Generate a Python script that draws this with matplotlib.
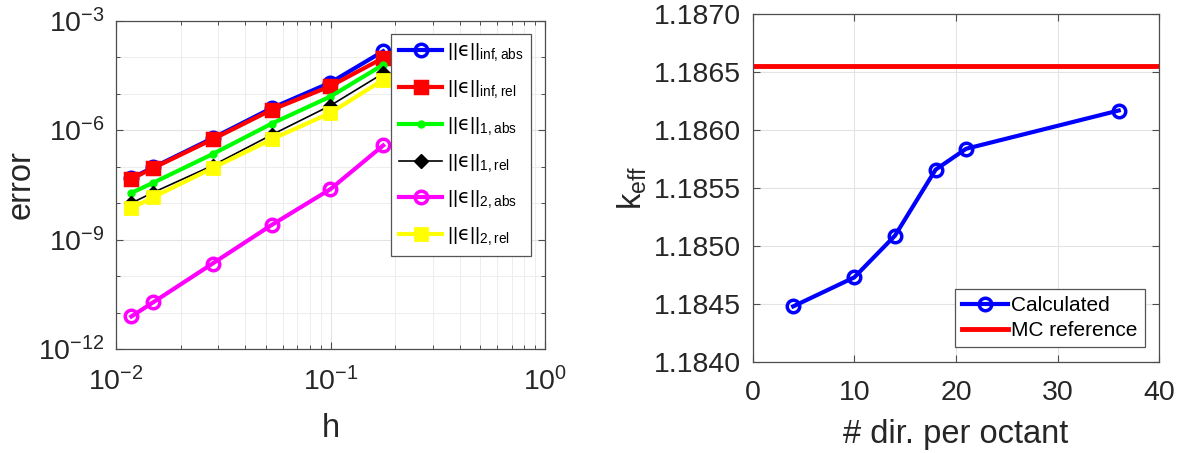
import matplotlib
matplotlib.use("Agg")
import matplotlib.pyplot as plt
from matplotlib.ticker import NullFormatter, FormatStrFormatter

plt.rcParams['font.family'] = ['Liberation Sans', 'DejaVu Sans']
plt.rcParams['mathtext.fontset'] = 'custom'
plt.rcParams['mathtext.rm'] = 'Liberation Sans'
plt.rcParams['mathtext.it'] = 'DejaVu Sans'
plt.rcParams['mathtext.bf'] = 'Liberation Sans:bold'

# left panel: error norms vs mesh size h
h = [0.0118, 0.0149, 0.0282, 0.0531, 0.0998, 0.176]
err_inf_abs = [4.8e-8, 9.5e-8, 6.0e-7, 4.0e-6, 2.0e-5, 1.45e-4]
err_inf_rel = [4.6e-8, 9.1e-8, 5.6e-7, 3.6e-6, 1.6e-5, 9.5e-5]
err_1_abs = [1.9e-8, 3.6e-8, 2.2e-7, 1.5e-6, 8.3e-6, 6.2e-5]
err_1_rel = [1.0e-8, 1.95e-8, 1.07e-7, 7.4e-7, 4.7e-6, 3.6e-5]
err_2_abs = [7.8e-12, 1.9e-11, 2.2e-10, 2.5e-9, 2.4e-8, 3.8e-7]
err_2_rel = [7.2e-9, 1.45e-8, 9.1e-8, 5.6e-7, 2.95e-6, 2.4e-5]

# right panel: k_eff vs number of directions per octant
ndir = [4, 10, 14, 18, 21, 36]
keff = [1.18448, 1.18473, 1.18509, 1.18566, 1.18584, 1.18617]
mc_ref = 1.18655

axcol = '#4d4d4d'
txtcol = '#262626'
gridcol = '#e3e3e3'

fig = plt.figure(figsize=(11.81, 4.53), dpi=100)
ax1 = fig.add_axes([0.0982, 0.2296, 0.3633, 0.7247])
ax2 = fig.add_axes([0.6372, 0.2009, 0.3445, 0.7675])

lw = 3.0
ax1.loglog(h, err_inf_abs, '-o', color='#0000ff', lw=lw, ms=9, mew=2.5, mfc='none',
           label='$||\u03f5||_{\\mathrm{inf,abs}}$')
ax1.loglog(h, err_inf_rel, '-s', color='#ff0000', lw=lw, ms=9, mew=2.5,
           label='$||\u03f5||_{\\mathrm{inf,rel}}$')
ax1.loglog(h, err_1_abs, '-o', color='#00ff00', lw=lw, ms=5,
           label='$||\u03f5||_{\\mathrm{1,abs}}$')
ax1.loglog(h, err_1_rel, '-D', color='black', lw=1.2, ms=7,
           label='$||\u03f5||_{\\mathrm{1,rel}}$')
ax1.loglog(h, err_2_abs, '-o', color='#ff00ff', lw=lw, ms=9, mew=2.5, mfc='none',
           label='$||\u03f5||_{\\mathrm{2,abs}}$')
ax1.loglog(h, err_2_rel, '-s', color='#ffff00', lw=lw, ms=8, mew=2.0,
           label='$||\u03f5||_{\\mathrm{2,rel}}$')

ax1.set_xlim(1e-2, 1)
ax1.set_ylim(1e-12, 1e-3)
ax1.set_yticks([1e-12, 1e-9, 1e-6, 1e-3])
ax1.set_yticks([1e-11, 1e-10, 1e-8, 1e-7, 1e-5, 1e-4], minor=True)
ax1.yaxis.set_minor_formatter(NullFormatter())
ax1.grid(True, which='major', color=gridcol, lw=0.8)
ax1.grid(True, which='minor', color='#ededed', lw=0.7)
ax1.set_xlabel('h', fontsize=23.5, color=txtcol, labelpad=12)
ax1.set_ylabel('error', fontsize=23.5, color=txtcol, labelpad=1)
leg1 = ax1.legend(loc='upper right', fontsize=14, handlelength=2.2, handletextpad=0.25,
                  labelspacing=0.75, borderaxespad=0.7, fancybox=False, framealpha=1,
                  borderpad=0.4)
leg1.get_frame().set_edgecolor('#555555')
leg1.get_frame().set_linewidth(0.9)

ax2.plot(ndir, keff, '-o', color='#0000ff', lw=3.0, ms=9, mew=2.5, mfc='none', label='Calculated')
ax2.axhline(mc_ref, color='#ff0000', lw=3.5, label='MC reference')
ax2.set_xlim(0, 40)
ax2.set_ylim(1.1840, 1.1870)
ax2.set_xticks([0, 10, 20, 30, 40])
ax2.set_yticks([1.1840, 1.1845, 1.1850, 1.1855, 1.1860, 1.1865, 1.1870])
ax2.yaxis.set_major_formatter(FormatStrFormatter('%.4f'))
ax2.grid(True, color=gridcol, lw=0.8)
ax2.set_xlabel('# dir. per octant', fontsize=23.5, color=txtcol, labelpad=9)
ax2.set_ylabel(r'$\mathrm{k_{eff}}$', fontsize=23.5, color=txtcol, labelpad=4)
leg2 = ax2.legend(loc='lower right', fontsize=15, handlelength=2.2, handletextpad=0.15,
                  labelspacing=0.3, borderaxespad=0.7, fancybox=False, framealpha=1,
                  borderpad=0.35)
leg2.get_frame().set_edgecolor('#555555')
leg2.get_frame().set_linewidth(0.9)

for ax in (ax1, ax2):
    ax.set_axisbelow(True)
    for s in ax.spines.values():
        s.set_color(axcol)
        s.set_linewidth(0.9)
    ax.tick_params(which='both', direction='in', top=True, right=True, color=axcol,
                   labelcolor=txtcol, labelsize=20.5)
    ax.tick_params(which='major', length=5, width=0.8)
    ax.tick_params(which='minor', length=3, width=0.7)
    ax.tick_params(axis='x', pad=13)
    ax.tick_params(axis='y', pad=8)

fig.savefig('out.png', dpi=100)
